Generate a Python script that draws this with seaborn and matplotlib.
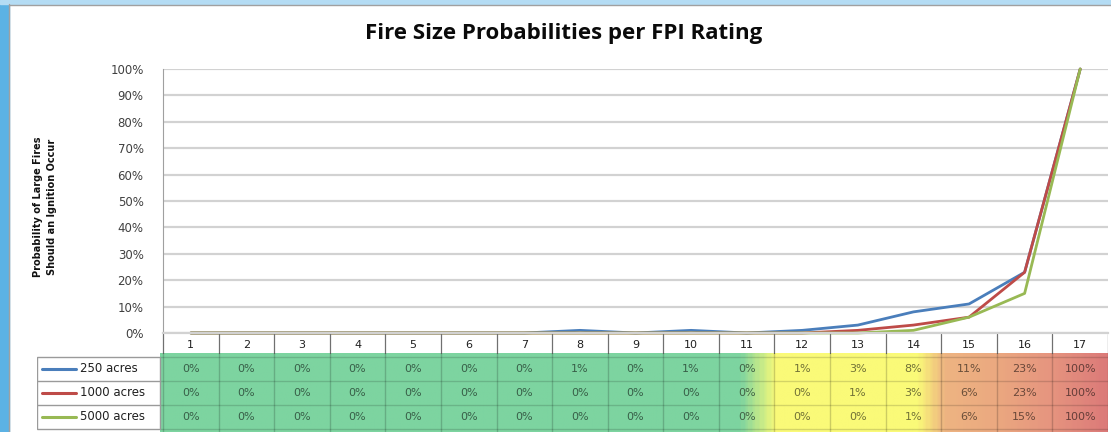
import numpy as np
import pandas as pd
import matplotlib
matplotlib.use("Agg")
import matplotlib.pyplot as plt
import seaborn as sns
from matplotlib.colors import LinearSegmentedColormap
from matplotlib.patches import Rectangle

fpi_rating = list(range(1, 18))
series_names = ["250 acres", "1000 acres", "5000 acres"]
p_250 = [0, 0, 0, 0, 0, 0, 0, 1, 0, 1, 0, 1, 3, 8, 11, 23, 100]
p_1000 = [0, 0, 0, 0, 0, 0, 0, 0, 0, 0, 0, 0, 1, 3, 6, 23, 100]
p_5000 = [0, 0, 0, 0, 0, 0, 0, 0, 0, 0, 0, 0, 0, 1, 6, 15, 100]
y_ticks = [0, 10, 20, 30, 40, 50, 60, 70, 80, 90, 100]
line_colors = ["#4a7ebb", "#be4b48", "#98b954"]

title = "Fire Size Probabilities per FPI Rating"
y_label = "Probability of Large Fires\nShould an Ignition Occur"

df = pd.DataFrame({
    "rating": fpi_rating * 3,
    "prob": np.array(p_250 + p_1000 + p_5000) / 100.0,
    "size": sum([[n] * len(fpi_rating) for n in series_names], []),
})

sns.set_style("white")
plt.rcParams["font.family"] = ["DejaVu Sans"]

W, H = 1111, 432
fig = plt.figure(figsize=(W / 100, H / 100), dpi=100)

# slide frame (blue border on the left / top)
fig.patches.append(Rectangle((0, 0), 9 / W, 1, transform=fig.transFigure,
                             color="#5cb2e4", zorder=0))
fig.patches.append(Rectangle((0, 1 - 4 / H), 1, 4 / H, transform=fig.transFigure,
                             color="#b4dcf4", zorder=0))
fig.lines.append(plt.Line2D([9 / W, 9 / W], [0, 1 - 4 / H], transform=fig.transFigure,
                            color="#a0a0a0", lw=1))
fig.lines.append(plt.Line2D([9 / W, 1], [1 - 4.5 / H, 1 - 4.5 / H], transform=fig.transFigure,
                            color="#a0a0a0", lw=1))

# ---- line chart ----
ax = fig.add_axes([163 / W, 1 - 333 / H, 945 / W, 264 / H])
sns.lineplot(data=df, x="rating", y="prob", hue="size", palette=line_colors,
             linewidth=2.0, legend=False, ax=ax, sort=False, clip_on=False)
ax.set_xlim(0.5, 17.5)
ax.set_ylim(0, 1)
ax.set_yticks(np.array(y_ticks) / 100)
ax.set_yticklabels([f"{t}%" for t in y_ticks], fontsize=8.5, color="#404040")
ax.set_xticks([])
ax.set_xlabel("")
ax.set_ylabel("")
ax.tick_params(axis="y", length=0, pad=14)
ax.grid(axis="y", color="#d2d2d2", linewidth=1.6)
ax.set_axisbelow(True)
for s in ["top", "right"]:
    ax.spines[s].set_visible(False)
ax.spines["left"].set_color("#a0a0a0")
ax.spines["bottom"].set_color("#d2d2d2")
ax.spines["bottom"].set_linewidth(1.6)

fig.text(564 / W, 1 - 33 / H, title, ha="center", va="center",
         fontsize=16, fontweight="bold", family=["Open Sans", "DejaVu Sans"],
         color="#0a0a0a")
fig.text(45 / W, 1 - 207 / H, y_label, ha="center", va="center", rotation=90,
         fontsize=7, fontweight="bold", linespacing=1.45, color="#111111")

# ---- data table ----
tab = fig.add_axes([37 / W, 0, 1071 / W, 98 / H])
cat_w = 945 / 17.0


def px(p):
    return 0.5 + (p - 163) / cat_w


tab.set_xlim(px(37), 17.5)
tab.set_ylim(432, 334)
tab.axis("off")

# colour scale across columns (green -> yellow -> red)
x0, x1 = px(160), 17.5
stops = [(x0, "#7dd4a0"), (10.9, "#7dd4a0"), (11.55, "#fafa78"), (14.1, "#fafa78"),
         (14.6, "#eeb482"), (15.5, "#eba980"), (16.5, "#e6957f"), (17.5, "#dc7b79")]
cmap = LinearSegmentedColormap.from_list(
    "fpi", [((x - x0) / (x1 - x0), c) for x, c in stops])
grad = np.linspace(0, 1, 400)[None, :]
tab.imshow(grad, extent=(x0, x1, 432, 353), aspect="auto", cmap=cmap, zorder=1)

row_top = [357, 381, 405]
row_h = 24
row_mid = [r + row_h / 2 for r in row_top]

# header row with rating numbers
for k in fpi_rating:
    tab.text(k, 345, str(k), ha="center", va="center", fontsize=8, color="#202020")
for b in np.arange(0.5, 18.5, 1):
    tab.plot([b, b], [334, 353], color="#707070", lw=0.9, zorder=2)
    tab.plot([b, b], [353, 432], color="black", alpha=0.18, lw=1, zorder=2)
for r in row_top + [429]:
    tab.plot([x0, x1], [r, r], color="black", alpha=0.15, lw=1, zorder=2)

# cell values
series_vals = [p_250, p_1000, p_5000]
for vals, ym in zip(series_vals, row_mid):
    for k, v in zip(fpi_rating, vals):
        bg = np.array(cmap((k - x0) / (x1 - x0))[:3])
        tab.text(k, ym, f"{v}%", ha="center", va="center", fontsize=8,
                 color=bg * 0.45, zorder=3)

# legend keys in the table
lx0 = px(37)
tab.add_patch(Rectangle((lx0, 357), x0 - lx0, 72, fill=False, ec="#9a9a9a", lw=1, zorder=2))
for r in row_top[1:]:
    tab.plot([lx0, x0], [r, r], color="#9a9a9a", lw=1, zorder=2)
for name, c, ym in zip(series_names, line_colors, row_mid):
    tab.plot([px(42), px(76)], [ym, ym], color=c, lw=2.2, zorder=3)
    tab.text(px(80), ym, name, ha="left", va="center", fontsize=8.5, color="#202020", zorder=3)

fig.savefig("out.png", dpi=100)
